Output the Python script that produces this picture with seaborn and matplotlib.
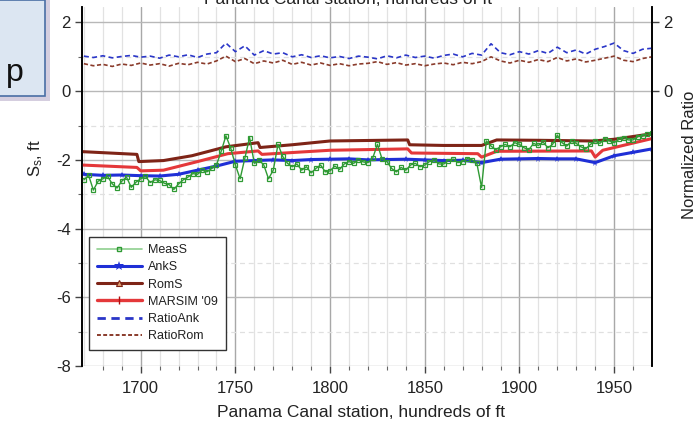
import numpy as np
import pandas as pd
import matplotlib
matplotlib.use("Agg")
import matplotlib.pyplot as plt
from matplotlib.patches import Rectangle
from matplotlib.lines import Line2D
import seaborn as sns

# ---------------- data ----------------
grid_x = [1670, 1675, 1680, 1685, 1690, 1695, 1700, 1705, 1710, 1715, 1720, 1725,
          1730, 1735, 1740, 1745, 1750, 1755, 1760, 1765, 1770, 1775, 1780, 1785,
          1790, 1795, 1800, 1805, 1810, 1815, 1820, 1825, 1830, 1835, 1840, 1845,
          1850, 1855, 1860, 1865, 1870, 1875, 1880, 1885, 1890, 1895, 1900, 1905,
          1910, 1915, 1920, 1925, 1930, 1935, 1940, 1945, 1950, 1955, 1960, 1965, 1970]

meas_x = [1670, 1672.5, 1675, 1677.5, 1680, 1682.5, 1685, 1687.5, 1690, 1692.5, 1695, 1697.5,
          1700, 1702.5, 1705, 1707.5, 1710, 1712.5, 1715, 1717.5, 1720, 1722.5, 1725, 1727.5,
          1730, 1732.5, 1735, 1737.5, 1740, 1742.5, 1745, 1747.5, 1750, 1752.5, 1755, 1757.5,
          1760, 1762.5, 1765, 1767.5, 1770, 1772.5, 1775, 1777.5, 1780, 1782.5, 1785, 1787.5,
          1790, 1792.5, 1795, 1797.5, 1800, 1802.5, 1805, 1807.5, 1810, 1812.5, 1815, 1817.5,
          1820, 1822.5, 1825, 1827.5, 1830, 1832.5, 1835, 1837.5, 1840, 1842.5, 1845, 1847.5,
          1850, 1852.5, 1855, 1857.5, 1860, 1862.5, 1865, 1867.5, 1870, 1872.5, 1875, 1877.5,
          1880, 1882.5, 1885, 1887.5, 1890, 1892.5, 1895, 1897.5, 1900, 1902.5, 1905, 1907.5,
          1910, 1912.5, 1915, 1917.5, 1920, 1922.5, 1925, 1927.5, 1930, 1932.5, 1935, 1937.5,
          1940, 1942.5, 1945, 1947.5, 1950, 1952.5, 1955, 1957.5, 1960, 1962.5, 1965, 1967.5, 1970]
meas_s = [-2.58, -2.45, -2.88, -2.62, -2.55, -2.48, -2.70, -2.82, -2.62, -2.50, -2.80, -2.65,
          -2.55, -2.48, -2.66, -2.58, -2.60, -2.68, -2.72, -2.86, -2.70, -2.58, -2.50, -2.40,
          -2.42, -2.30, -2.35, -2.25, -2.15, -1.75, -1.30, -1.65, -2.15, -2.55, -1.95, -1.35,
          -2.10, -2.00, -2.15, -2.55, -2.30, -1.55, -1.90, -2.10, -2.20, -2.12, -2.30, -2.20,
          -2.38, -2.25, -2.15, -2.35, -2.32, -2.18, -2.28, -2.12, -2.05, -2.10, -2.00, -2.06,
          -2.08, -1.95, -1.55, -1.98, -2.05, -2.25, -2.35, -2.22, -2.30, -2.15, -2.10, -2.20,
          -2.15, -2.05, -2.00, -2.12, -2.12, -2.02, -1.98, -2.08, -2.05, -1.96, -2.00, -2.10,
          -2.80, -1.45, -1.60, -1.70, -1.62, -1.55, -1.62, -1.50, -1.55, -1.65, -1.70, -1.52,
          -1.58, -1.48, -1.65, -1.55, -1.28, -1.50, -1.60, -1.45, -1.52, -1.62, -1.68, -1.55,
          -1.45, -1.52, -1.38, -1.45, -1.50, -1.40, -1.35, -1.42, -1.42, -1.32, -1.30, -1.26, -1.22]

ank_x = [1670, 1680, 1690, 1700, 1710, 1720, 1730, 1740, 1750, 1760, 1770, 1780, 1790,
         1800, 1810, 1820, 1830, 1840, 1850, 1860, 1870, 1880, 1890, 1900, 1910, 1920,
         1930, 1940, 1950, 1960, 1970]
ank_s = [-2.42, -2.45, -2.44, -2.46, -2.47, -2.42, -2.30, -2.18, -2.04, -2.02, -2.00, -2.02, -1.99,
         -1.98, -1.97, -2.00, -1.99, -1.98, -2.00, -2.02, -2.01, -2.08, -1.98, -1.97, -1.96, -1.97,
         -1.97, -2.08, -1.88, -1.78, -1.68]

rom_x = [1669, 1698, 1699, 1712, 1727, 1745, 1762, 1763, 1780, 1800, 1841, 1842, 1860,
         1880, 1888, 1910, 1939, 1950, 1960, 1970]
rom_s = [-1.76, -1.84, -2.05, -2.02, -1.88, -1.62, -1.50, -1.64, -1.56, -1.45, -1.42, -1.56, -1.58,
         -1.58, -1.42, -1.43, -1.45, -1.40, -1.32, -1.24]

marsim_x = [1669, 1698, 1700, 1712, 1730, 1746, 1762, 1764, 1800, 1841, 1843, 1878, 1880,
            1888, 1938, 1940, 1944, 1970]
marsim_s = [-2.15, -2.22, -2.32, -2.30, -2.05, -1.82, -1.74, -1.84, -1.72, -1.68, -1.80, -1.82, -1.92,
            -1.75, -1.74, -1.92, -1.72, -1.38]

ratio_ank = [1.02, 0.98, 1.03, 0.97, 1.01, 1.04, 0.99, 1.02, 0.96, 1.05, 1.00, 1.06,
             0.98, 1.08, 1.12, 1.40, 1.15, 1.32, 1.05, 1.18, 1.08, 1.12, 1.00, 1.06,
             0.98, 1.03, 0.97, 1.01, 0.95, 1.02, 0.99, 0.94, 1.03, 0.97, 1.05, 0.98,
             1.02, 0.96, 1.04, 1.08, 1.00, 1.10, 1.05, 1.38, 1.12, 1.06, 1.15, 1.08,
             1.18, 1.10, 1.28, 1.12, 1.20, 1.08, 1.22, 1.30, 1.40, 1.18, 1.10, 1.22, 1.25]

ratio_rom = [0.80, 0.74, 0.78, 0.72, 0.79, 0.75, 0.82, 0.76, 0.80, 0.73, 0.81, 0.77,
             0.84, 0.79, 0.88, 1.02, 0.86, 0.95, 0.80, 0.88, 0.82, 0.90, 0.78, 0.84,
             0.76, 0.82, 0.75, 0.80, 0.74, 0.79, 0.81, 0.86, 0.78, 0.83, 0.76, 0.80,
             0.74, 0.79, 0.82, 0.77, 0.84, 0.80, 0.86, 1.00, 0.88, 0.82, 0.90, 0.84,
             0.92, 0.86, 0.98, 0.88, 0.94, 0.85, 0.90, 0.96, 1.02, 0.90, 0.86, 0.95, 1.00]

left_ticks = [-8, -6, -4, -2, 0, 2]
right_ticks = [0, 2]
x_ticks = [1700, 1750, 1800, 1850, 1900, 1950]

# ---------------- style ----------------
sns.set_theme(style="white")
plt.rcParams['font.family'] = ['Liberation Sans', 'DejaVu Sans']
plt.rcParams['axes.unicode_minus'] = False

W, H = 698, 426
fig = plt.figure(figsize=(W / 100, H / 100), dpi=100)
ax = fig.add_axes([82 / W, 1 - 366 / H, (652 - 82) / W, (366 - 7) / H])
ax.set_xlim(1669, 1970)
ax.set_ylim(-8, 2.45)

# grid
for xv in range(1670, 1971, 10):
    if xv % 50 == 0:
        ax.axvline(xv, color='#a8a8a8', lw=1.0, zorder=0)
    else:
        ax.axvline(xv, color='#e2e2e2', lw=0.9, zorder=0)
for yv in range(-8, 3):
    if yv % 2 == 0:
        ax.axhline(yv, color='#b8b8b8', lw=1.0, zorder=0)
    else:
        ax.axhline(yv, color='#e0e0e0', lw=0.9, ls=(0, (4, 3)), zorder=0)

c_meas = '#2f9a34'
c_ank = '#1f2fd6'
c_rom = '#7e2417'
c_mar = '#e4383a'
c_rank = '#2a36c8'
c_rrom = '#8a3b2b'

df_grid = pd.DataFrame({'x': grid_x, 'rank': ratio_ank, 'rrom': ratio_rom})
df_meas = pd.DataFrame({'x': meas_x, 'y': meas_s})
df_ank = pd.DataFrame({'x': ank_x, 'y': ank_s})
df_rom = pd.DataFrame({'x': rom_x, 'y': rom_s})
df_mar = pd.DataFrame({'x': marsim_x, 'y': marsim_s})

sns.lineplot(data=df_rom, x='x', y='y', ax=ax, color=c_rom, lw=2.2, estimator=None, sort=False, zorder=3)
sns.lineplot(data=df_mar, x='x', y='y', ax=ax, color=c_mar, lw=2.2, estimator=None, sort=False, zorder=3)
sns.lineplot(data=df_ank, x='x', y='y', ax=ax, color=c_ank, lw=2.2, marker='*', markersize=5,
             markeredgewidth=0, estimator=None, sort=False, zorder=4)
sns.lineplot(data=df_meas, x='x', y='y', ax=ax, color=c_meas, lw=1.0, marker='s', markersize=3.2,
             markerfacecolor='none', markeredgecolor=c_meas, markeredgewidth=0.9,
             estimator=None, sort=False, zorder=5)

ax2 = ax.twinx()
ax2.set_ylim(-8, 2.45)
sns.lineplot(data=df_grid, x='x', y='rrom', ax=ax2, color=c_rrom, lw=1.2, ls=(0, (2.5, 1.5)),
             estimator=None, sort=False)
sns.lineplot(data=df_grid, x='x', y='rank', ax=ax2, color=c_rank, lw=1.2, ls=(0, (3, 2)),
             estimator=None, sort=False)
ax2.set_xlim(1669, 1970)

# axes styling
for a in (ax, ax2):
    a.spines['top'].set_visible(False)
    a.spines['bottom'].set_visible(False)
    a.spines['left'].set_color('black')
    a.spines['right'].set_color('black')
    a.spines['left'].set_linewidth(1.2)
    a.spines['right'].set_linewidth(1.2)
    a.set_xlabel('')
    a.set_ylabel('')

ax.set_xticks(x_ticks)
ax.set_xticks(list(range(1680, 1970, 10)), minor=True)
ax.set_yticks(left_ticks)
ax.set_yticks([-7, -5, -3, -1, 1], minor=True)
ax.tick_params(axis='both', which='major', direction='out', length=5, width=1, color='#444444',
               labelsize=12, labelcolor='#222222', left=True, bottom=True, pad=3)
ax.tick_params(axis='both', which='minor', direction='out', length=3, width=0.8, color='#666666',
               left=True, bottom=True)
ax.tick_params(axis='x', pad=6)
ax2.set_yticks(right_ticks)
ax2.tick_params(axis='y', which='major', direction='out', length=5, width=1, color='#444444',
                labelsize=12, labelcolor='#222222', right=True, pad=3)

# labels
fig.text(361 / W, 1 - 417 / H, 'Panama Canal station, hundreds of ft', ha='center', va='baseline',
         fontsize=12.5, color='#222222')
fig.text(348 / W, 1 - 4 / H, 'Panama Canal station, hundreds of ft', ha='center', va='baseline',
         fontsize=12.5, color='#222222')
fig.text(36 / W, 1 - 158 / H, r'$\mathregular{S_s}$, ft', rotation=90, ha='center', va='center',
         fontsize=12, color='#222222')
fig.text(689 / W, 1 - 155 / H, 'Normalized Ratio', rotation=90, ha='center', va='center',
         fontsize=12, color='#222222')

# legend
handles = [
    Line2D([], [], color='#8fcf8f', lw=1.2, marker='s', markersize=3.5, markerfacecolor='none',
           markeredgecolor=c_meas),
    Line2D([], [], color=c_ank, lw=2.2, marker='*', markersize=7, markeredgewidth=0),
    Line2D([], [], color=c_rom, lw=2.2, marker='^', markersize=4, markerfacecolor='#e0a070',
           markeredgecolor=c_rom, markeredgewidth=0.8),
    Line2D([], [], color=c_mar, lw=2.4, marker='|', markersize=6, markeredgecolor='#b01010'),
    Line2D([], [], color=c_rank, lw=2.0, ls=(0, (3, 2))),
    Line2D([], [], color=c_rrom, lw=1.4, ls=(0, (2, 1.2))),
]
labels = ['MeasS', 'AnkS', 'RomS', "MARSIM '09", 'RatioAnk', 'RatioRom']
leg = ax.legend(handles, labels, loc='lower left', bbox_to_anchor=(0.013, 0.045),
                fontsize=9, frameon=True, fancybox=False, framealpha=1, edgecolor='#333333',
                handlelength=3.6, handletextpad=0.5, labelspacing=0.42, borderpad=0.6,
                borderaxespad=0, markerfirst=True)
leg.get_frame().set_linewidth(1.0)
leg.set_zorder(10)
for t in leg.get_texts():
    t.set_color('#222222')

# overlaid slide box
fig.patches.append(Rectangle((0 / W, 1 - 101 / H), 50 / W, 101 / H, transform=fig.transFigure,
                             facecolor='#b9aecb', edgecolor='none', alpha=0.6, zorder=20))
fig.patches.append(Rectangle((-5 / W, 1 - 96 / H), 50 / W, 96 / H, transform=fig.transFigure,
                             facecolor='#dce6f2', edgecolor='#4a6fa5', lw=1.2, zorder=21))
fig.text(6 / W, 1 - 81 / H, 'p', fontsize=23, color='#111111', ha='left', va='baseline',
         zorder=22)

fig.savefig('out.png', dpi=100)
